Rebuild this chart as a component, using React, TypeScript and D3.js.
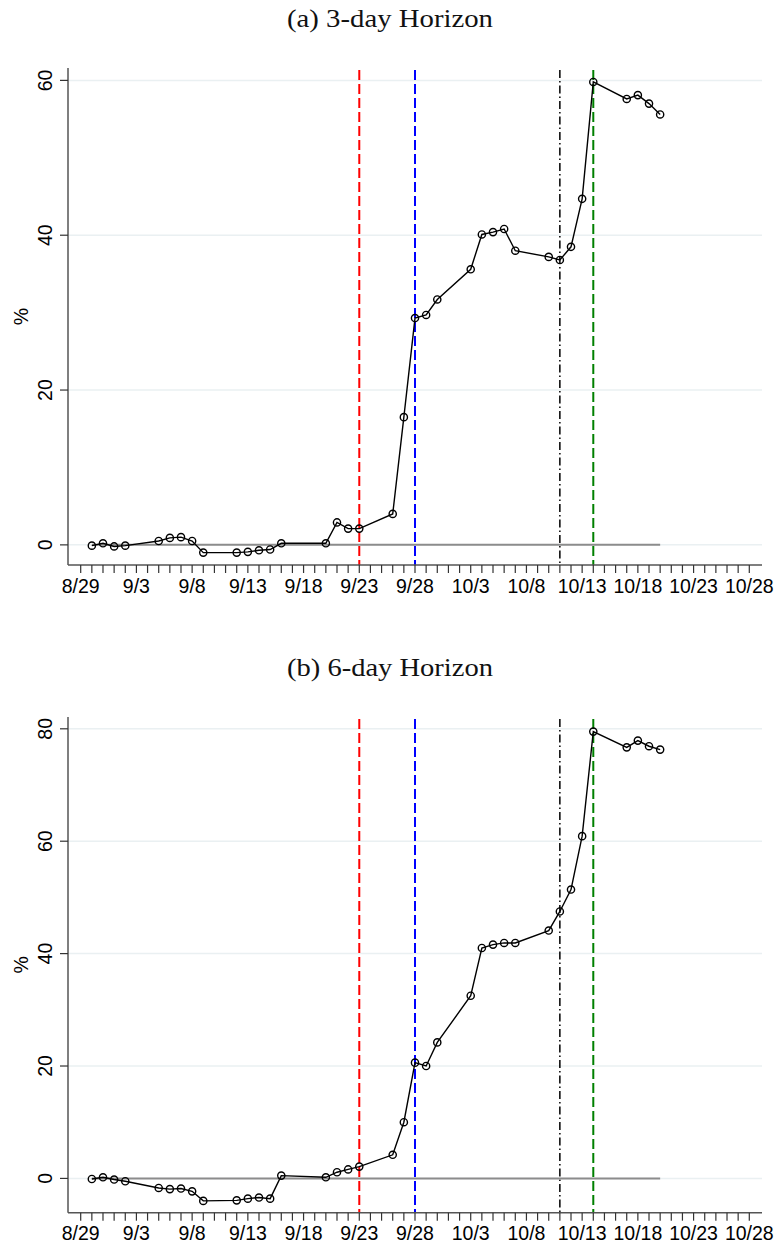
import React from "react";
import * as d3 from "d3";

const YEAR = 2008;
const dateLabels = ["8/30","8/31","9/1","9/2","9/5","9/6","9/7","9/8","9/9","9/12","9/13","9/14","9/15","9/16","9/20","9/21","9/22","9/23","9/26","9/27","9/28","9/29","9/30","10/3","10/4","10/5","10/6","10/7","10/10","10/11","10/12","10/13","10/14","10/17","10/18","10/19","10/20"];
const horizon3 = [-0.1,0.2,-0.2,-0.1,0.5,0.9,1.0,0.5,-1.0,-1.0,-0.9,-0.7,-0.6,0.2,0.2,2.9,2.1,2.1,4.0,16.5,29.3,29.7,31.7,35.6,40.1,40.4,40.8,38.0,37.2,36.8,38.5,44.7,59.8,57.6,58.1,57.0,55.6];
const horizon6 = [-0.1,0.2,-0.2,-0.5,-1.7,-1.9,-1.8,-2.3,-4.0,-3.9,-3.6,-3.4,-3.6,0.5,0.2,1.1,1.6,2.1,4.2,10.0,20.6,20.0,24.2,32.5,41.0,41.6,41.9,41.9,44.1,47.5,51.4,60.9,79.5,76.7,77.9,76.9,76.3];
const eventDates = ["9/23","9/28","10/11","10/14"];
const eventColors = ["#ff0000","#0000ff","#000000","#008000"];
const eventDash = ["10,4","10,4","8,3,1.5,3","10,4"];
const xTickStart = "8/29";
const xTickEnd = "10/28";
const yTicks3 = [0,20,40,60];
const yTicks6 = [0,20,40,60,80];
const titles = ["(a) 3-day Horizon","(b) 6-day Horizon"];

const parse = (s: string) => {
  const [m, d] = s.split("/").map(Number);
  return new Date(Date.UTC(YEAR, m - 1, d));
};
const fmt = (d: Date) => `${d.getUTCMonth() + 1}/${d.getUTCDate()}`;

const DAY = 86400000;
const x0 = parse(xTickStart);
const x1 = parse(xTickEnd);
const xScale = d3.scaleUtc()
  .domain([new Date(x0.getTime() - 1.14 * DAY), new Date(x1.getTime() + 1.14 * DAY)])
  .range([68, 762]);
const allTicks = d3.utcDay.range(x0, new Date(x1.getTime() + DAY));
const labelTicks = allTicks.filter((_, i) => i % 5 === 0);

const SANS = "'Liberation Sans', Arial, Helvetica, sans-serif";
const SERIF = "'Liberation Serif', 'Times New Roman', serif";

function Panel({ values, yTicks, yDomain, top, bottom, title, titleY }: any) {
  const y = d3.scaleLinear().domain(yDomain).range([bottom, top]);
  const pts = dateLabels.map((d, i) => ({ x: xScale(parse(d)), y: y(values[i]) }));
  const line = d3.line<any>().x(p => p.x).y(p => p.y)(pts) as string;
  const first = xScale(parse(dateLabels[0]));
  const last = xScale(parse(dateLabels[dateLabels.length - 1]));
  return (
    <g>
      <text x={390} y={titleY} textAnchor="middle" fontFamily={SERIF} fontSize={26}
        textLength={206} lengthAdjust="spacingAndGlyphs" fill="#111">{title}</text>
      {yTicks.map((t: number) => (
        <line key={"g" + t} x1={68} x2={762} y1={y(t)} y2={y(t)} stroke="#eaf0f2" strokeWidth={1.5} />
      ))}
      {eventDates.map((d, i) => (
        <line key={"e" + i} x1={xScale(parse(d))} x2={xScale(parse(d))} y1={top + 2} y2={bottom}
          stroke={eventColors[i]} strokeWidth={i === 2 ? 1.5 : 2} strokeDasharray={eventDash[i]} />
      ))}
      <line x1={first} x2={last} y1={y(0)} y2={y(0)} stroke="#8c8c8c" strokeWidth={2} />
      <path d={line} fill="none" stroke="#000" strokeWidth={1.4} />
      {pts.map((p, i) => (
        <circle key={"c" + i} cx={p.x} cy={p.y} r={3.6} fill="none" stroke="#000" strokeWidth={1.4} />
      ))}
      <line x1={68} x2={68} y1={top} y2={bottom} stroke="#555" strokeWidth={1.5} />
      {yTicks.map((t: number) => (
        <g key={"yt" + t}>
          <line x1={60} x2={68} y1={y(t)} y2={y(t)} stroke="#333" strokeWidth={1.2} />
          <text transform={`translate(52,${y(t)}) rotate(-90)`} textAnchor="middle"
            fontFamily={SANS} fontSize={19.5} fill="#000">{t}</text>
        </g>
      ))}
      <text transform={`translate(28,${(top + bottom) / 2}) rotate(-90)`} textAnchor="middle"
        fontFamily={SANS} fontSize={19.5} fill="#000">%</text>
      <line x1={68} x2={762} y1={bottom} y2={bottom} stroke="#555" strokeWidth={1.5} />
      {allTicks.map((t, i) => (
        <line key={"xt" + i} x1={xScale(t)} x2={xScale(t)} y1={bottom} y2={bottom + 8} stroke="#333" strokeWidth={1.2} />
      ))}
      {labelTicks.map((t, i) => (
        <text key={"xl" + i} x={xScale(t)} y={bottom + 27.5} textAnchor="middle"
          fontFamily={SANS} fontSize={19.5} fill="#000">{fmt(t)}</text>
      ))}
    </g>
  );
}

export default function App() {
  return (
    <svg width={776} height={1245} style={{ position: "absolute", left: 0, top: 0, background: "#fff" }}>
      <rect x={0} y={0} width={776} height={1245} fill="#fff" />
      <Panel values={horizon3} yTicks={yTicks3} yDomain={[-2.6, 61.6]} top={68} bottom={565}
        title={titles[0]} titleY={27} />
      <Panel values={horizon6} yTicks={yTicks6} yDomain={[-6.1, 82.1]} top={717} bottom={1212.7}
        title={titles[1]} titleY={676} />
    </svg>
  );
}
